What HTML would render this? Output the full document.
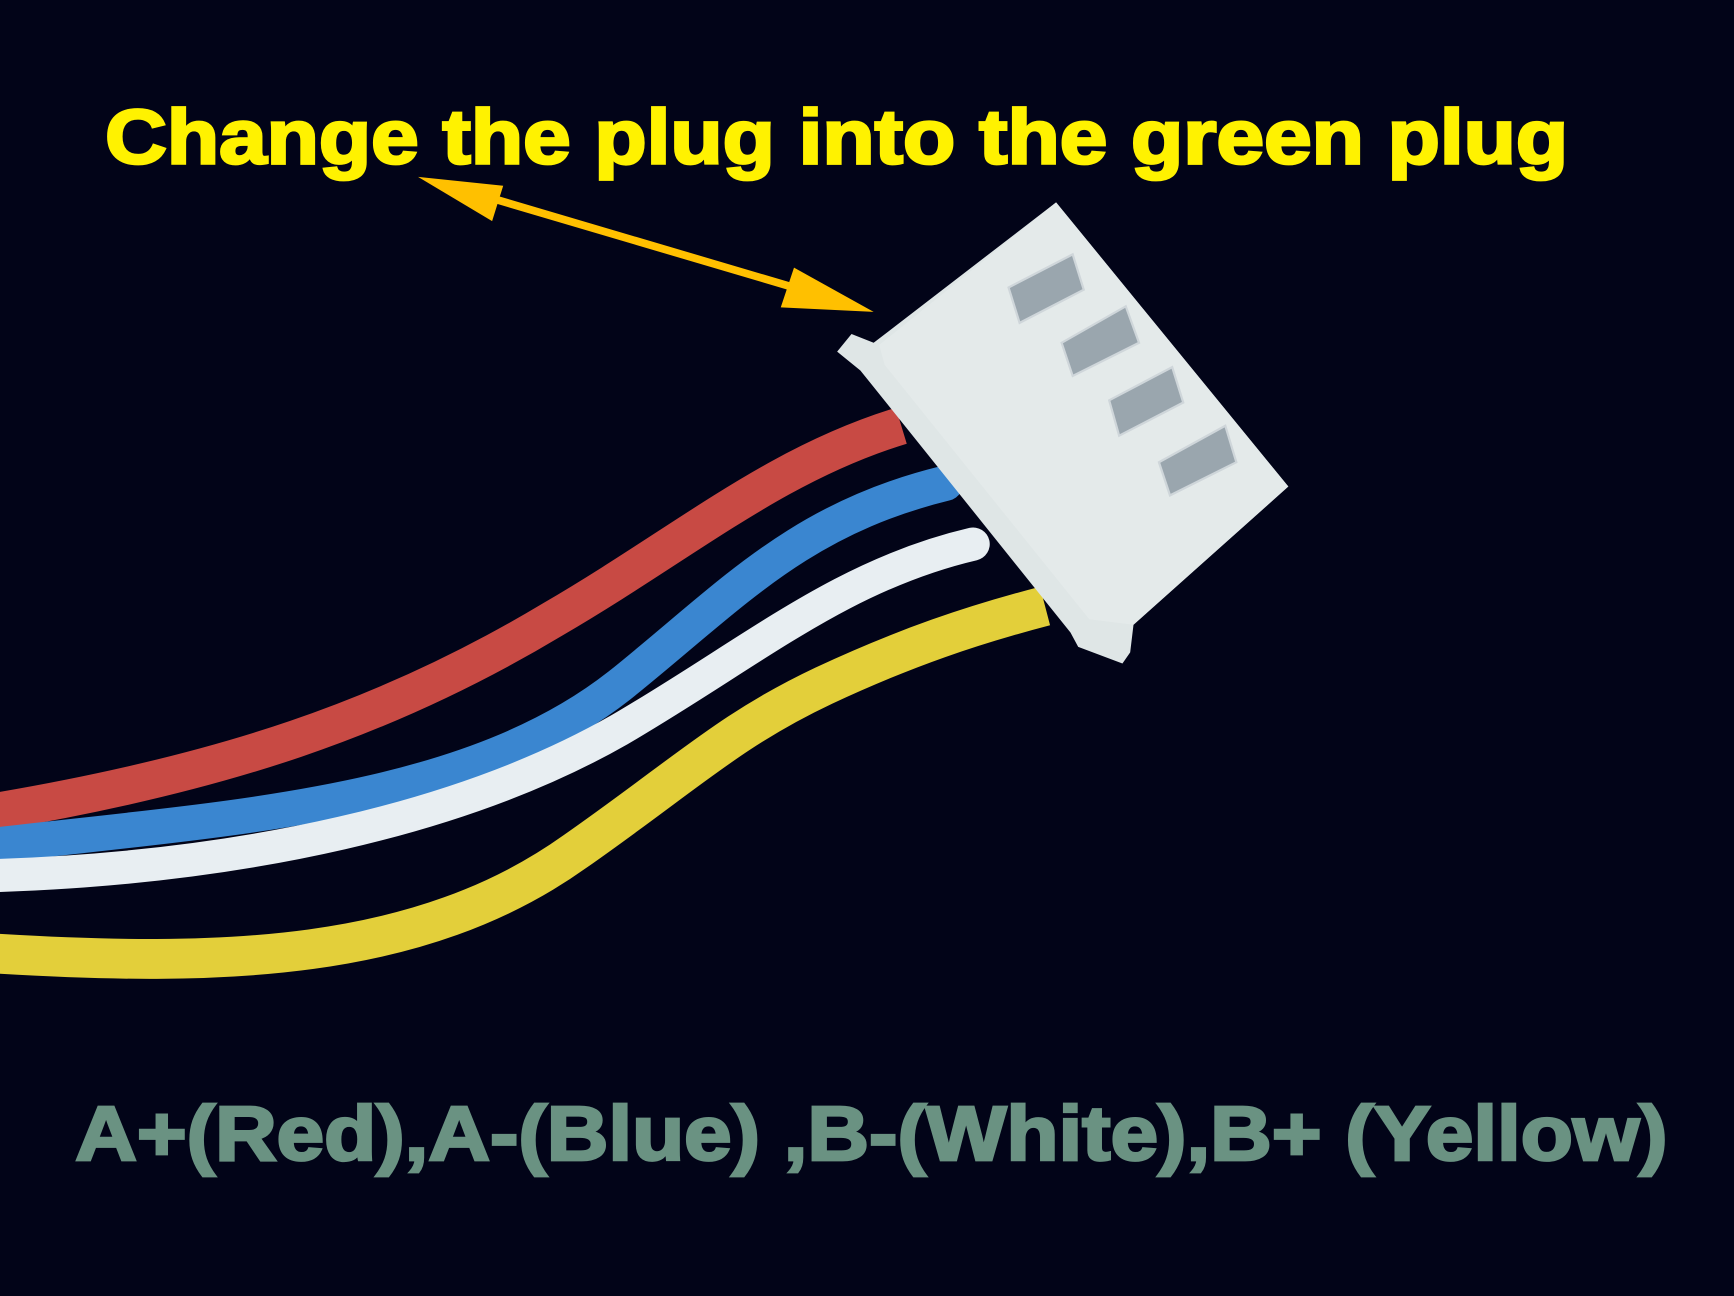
<!DOCTYPE html>
<html><head><meta charset="utf-8"><style>
html,body{margin:0;padding:0;background:#020418;}
svg{display:block}
</style></head><body>
<svg width="1734" height="1296" viewBox="0 0 1568 1172" xmlns="http://www.w3.org/2000/svg">
<rect width="1568" height="1172" fill="#020418"/>
<text x="95" y="148" font-family="Liberation Sans, sans-serif" font-weight="bold" font-size="70" fill="#fff200" stroke="#fff200" stroke-width="2.5" textLength="1323" lengthAdjust="spacingAndGlyphs">Change the plug into the green plug</text>
<!-- arrow -->
<line x1="420" y1="172" x2="745" y2="268" stroke="#ffc000" stroke-width="7"/>
<polygon points="378,160 455,168 445,200" fill="#ffc000"/>
<polygon points="790,282 706,278 718,242" fill="#ffc000"/>
<!-- wires -->
<path d="M-10,735 C200,700 350,650 500,560 C620,490 700,420 815,385" stroke="#c84a44" stroke-width="34" fill="none"/>
<path d="M-10,765 C200,740 420,730 560,620 C660,540 720,470 855,437" stroke="#3a86d0" stroke-width="32" fill="none" stroke-linecap="round"/>
<path d="M-10,792 C220,785 420,740 560,660 C680,590 760,520 880,492" stroke="#e8eef2" stroke-width="30" fill="none" stroke-linecap="round"/>
<path d="M-10,862 C200,875 380,870 520,770 C620,700 660,660 745,620 C820,585 880,565 945,548" stroke="#e3cf3a" stroke-width="36" fill="none"/>
<!-- connector -->
<polygon points="757,318 770,302 790,310 955,183 1165,440 1025,565 1022,590 1015,600 975,585 968,572 778,335" fill="#dfe6e6"/>
<polygon points="795,312 955,183 1165,440 1025,565 985,560 800,330" fill="#e4eaea"/>
<g fill="#9aa6ae" stroke="#cfd6da" stroke-width="2">
<polygon points="912,260 970,230 980,262 922,292"/>
<polygon points="960,310 1018,277 1030,310 970,340"/>
<polygon points="1003,362 1060,332 1070,364 1012,394"/>
<polygon points="1048,418 1108,385 1118,418 1058,448"/>
</g>
<text x="68" y="1049" font-family="Liberation Sans, sans-serif" font-weight="bold" font-size="70" fill="#6a9282" stroke="#6a9282" stroke-width="2.5" textLength="1440" lengthAdjust="spacingAndGlyphs">A+(Red),A-(Blue) ,B-(White),B+ (Yellow)</text>
</svg>
</body></html>
